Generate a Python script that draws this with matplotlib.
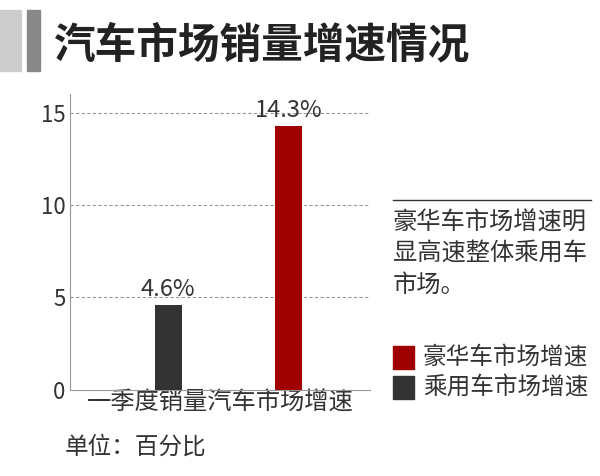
import matplotlib
matplotlib.use("Agg")
import matplotlib.pyplot as plt
from matplotlib.patches import Rectangle

plt.rcParams['font.family'] = ['Noto Sans CJK SC', 'DejaVu Sans']

categories = ["乘用车市场增速", "豪华车市场增速"]
values = [4.6, 14.3]
labels = ["4.6%", "14.3%"]
colors = ["#333333", "#a00000"]
yticks = [0, 5, 10, 15]

fig = plt.figure(figsize=(6, 4.76), dpi=100)
ax = fig.add_axes([0.117, 0.181, 0.5, 0.621])
x = [0, 1]
ax.bar(x, values, width=0.225, color=colors, zorder=3)
for xi, v, l in zip(x, values, labels):
    ax.text(xi, v + 0.2, l, ha='center', va='bottom', fontsize=17, color='#333333')
ax.set_xlim(-0.817, 1.683)
ax.set_ylim(0, 16)
ax.set_yticks(yticks)
ax.tick_params(axis='y', labelsize=16, length=0, colors='#333333')
ax.set_xticks([])
for y in yticks[1:]:
    ax.axhline(y, color='#999999', linestyle=(0, (3, 2)), linewidth=0.8, zorder=1)
for s in ['top', 'right']:
    ax.spines[s].set_visible(False)
ax.spines['left'].set_color('#999999')
ax.spines['bottom'].set_color('#999999')
ax.set_xlabel("一季度销量汽车市场增速", fontsize=17.5, color='#333333', labelpad=0)

# title decorations
fig.patches.append(Rectangle((0.0, 0.85), 0.035, 0.13, transform=fig.transFigure, color='#cccccc'))
fig.patches.append(Rectangle((0.045, 0.85), 0.022, 0.13, transform=fig.transFigure, color='#888888'))
fig.text(0.09, 0.905, "汽车市场销量增速情况", fontsize=30, fontweight='bold', color='#222222', va='center')

fig.text(0.108, 0.06, "单位：百分比", fontsize=17, color='#333333', va='center')

fig.add_artist(plt.Line2D([0.655, 0.985], [0.58, 0.58], color='#333333', linewidth=1))
fig.text(0.655, 0.56, "豪华车市场增速明\n显高速整体乘用车\n市场。", fontsize=17.5, color='#333333', va='top', linespacing=1.25)

fig.patches.append(Rectangle((0.655, 0.225), 0.035, 0.048, transform=fig.transFigure, color=colors[1]))
fig.text(0.705, 0.249, categories[1], fontsize=17, color='#333333', va='center')
fig.patches.append(Rectangle((0.655, 0.162), 0.035, 0.048, transform=fig.transFigure, color=colors[0]))
fig.text(0.705, 0.186, categories[0], fontsize=17, color='#333333', va='center')

fig.savefig("out.png", dpi=100)
